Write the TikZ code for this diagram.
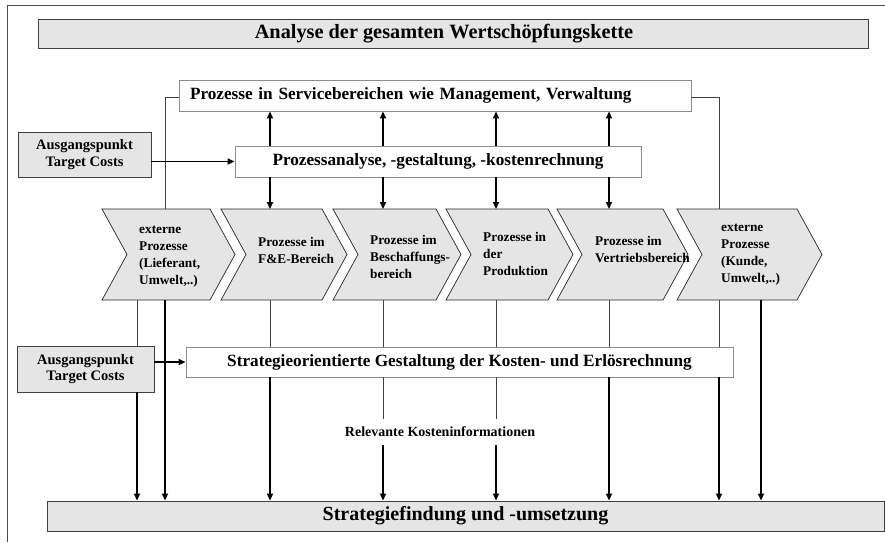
\documentclass[tikz,border=0pt]{standalone}
\usepackage{fontspec}
\setmainfont{Liberation Serif}
\usetikzlibrary{arrows.meta,positioning}

\begin{document}
\begin{tikzpicture}[x=1pt,y=-1pt,
  whitebox/.style={draw=black!45, fill=white, line width=0.9pt, inner sep=0pt,
    font=\bfseries\fontsize{17.2}{20}\selectfont},
  graybox/.style={draw=black!75, fill=black!10, line width=0.9pt, inner sep=0pt},
  targetbox/.style={graybox, align=center,
    font=\bfseries\fontsize{14.5}{16.5}\selectfont},
  chev/.style={draw=black!85, fill=black!10, line width=0.7pt},
  chevtext/.style={anchor=west, align=left, inner sep=0pt,
    font=\bfseries\fontsize{13.3}{17}\selectfont},
  thinline/.style={black!75, line width=0.7pt},
  thickline/.style={black, line width=1.6pt},
  arr/.style={-{Triangle[length=7pt,width=6pt]}},
]
  \useasboundingbox (0,0) rectangle (885,542);
  \draw[black!70, line width=0.8pt] (7,542) -- (7,5) -- (885,5);

  % boxes
  \node[graybox, minimum width=830, minimum height=29] (title) at (453,33.5) {};
  \node[inner sep=0pt, font=\bfseries\fontsize{20.3}{24}\selectfont]
        (titletext) at (444,33.5) {Analyse der gesamten Wertschöpfungskette};
  \node[whitebox, text width=490, inner xsep=11, align=left,
        minimum height=31] (svc) at (435,95.5)
        {Prozesse in Servicebereichen wie Management, Verwaltung};
  \node[whitebox, minimum width=406, minimum height=31] (pa) at (438,161.5)
        {Prozessanalyse, -gestaltung, -kostenrechnung};
  \node[targetbox, minimum width=133, minimum height=45] (tc1) at (84.5,154.5)
        {Ausgangspunkt\\Target Costs};
  \node[whitebox, minimum width=547, minimum height=30] (st) at (459.5,362)
        {Strategieorientierte Gestaltung der Kosten- und Erlösrechnung};
  \node[targetbox, minimum width=137, minimum height=46] (tc2) at (85.5,369)
        {Ausgangspunkt\\Target Costs};
  \node[graybox, minimum width=837, minimum height=30,
        font=\bfseries\fontsize{20}{24}\selectfont] (goal) at (465.5,516)
        {Strategiefindung und -umsetzung};
  \node[inner sep=0pt, minimum height=26,
        font=\bfseries\fontsize{14}{16}\selectfont] (info) at (440,432)
        {Relevante Kosteninformationen};

  % value chain
  \foreach \l/\r in {102/210, 221/322, 333/436, 446/548, 557/663, 677/797}
    \draw[chev] (\l,209) -- (\r,209) -- (\r+25,254.5) -- (\r,300)
      -- (\l,300) -- (\l+25,254.5) -- cycle;
  \coordinate (chtop) at (0,209);
  \coordinate (chbot) at (0,300);

  \node[chevtext] (ext1) at (139,257) {externe\\Prozesse\\(Lieferant,\\Umwelt,..)};
  \node[chevtext] (fe) at (258,250) {Prozesse im\\F\&E-Bereich};
  \node[chevtext] (besch) at (370,257) {Prozesse im\\Beschaffungs-\\bereich};
  \node[chevtext] (prod) at (483,254) {Prozesse in\\der\\Produktion};
  \node[chevtext] (vert) at (595,249) {Prozesse im\\Vertriebsbereich};
  \node[chevtext] (ext2) at (721,255) {externe\\Prozesse\\(Kunde,\\Umwelt,..)};

  % columns
  \coordinate (k1) at (137,0);
  \coordinate (k2) at (165,0);
  \coordinate (k3) at (270,0);
  \coordinate (k4) at (383,0);
  \coordinate (k5) at (496,0);
  \coordinate (k6) at (609,0);
  \coordinate (k7) at (719,0);
  \coordinate (k8) at (761,0);

  % process analysis to services and chain
  \foreach \k in {k3,k4,k5,k6} {
    \draw[thickline, arr] (pa.north -| \k) -- (svc.south -| \k);
    \draw[thickline, arr] (pa.south -| \k) -- (chtop -| \k);
  }
  \draw[thinline] (svc.west |- 0,97) -| (chtop -| k2);
  \draw[thinline] (svc.east |- 0,97) -| (chtop -| k7);
  \draw[thickline, arr] (tc1.east |- pa.west) -- (pa.west);
  \draw[thickline, arr] (tc2.east |- st.west) -- (st.west);

  % chain to strategy
  \draw[thinline] (chbot -| k1) -- (tc2.north -| k1);
  \draw[thickline, arr] (tc2.south -| k1) -- (goal.north -| k1);
  \draw[thickline, arr] (chbot -| k2) -- (goal.north -| k2);
  \foreach \k in {k3,k4,k5,k6,k7}
    \draw[thinline] (chbot -| \k) -- (st.north -| \k);
  \foreach \k in {k3,k6,k7}
    \draw[thickline, arr] (st.south -| \k) -- (goal.north -| \k);
  \foreach \k in {k4,k5} {
    \draw[thinline] (st.south -| \k) -- (info.north -| \k);
    \draw[thickline, arr] (info.south -| \k) -- (goal.north -| \k);
  }
  \draw[thickline, arr] (chbot -| k8) -- (goal.north -| k8);
\end{tikzpicture}
\end{document}
